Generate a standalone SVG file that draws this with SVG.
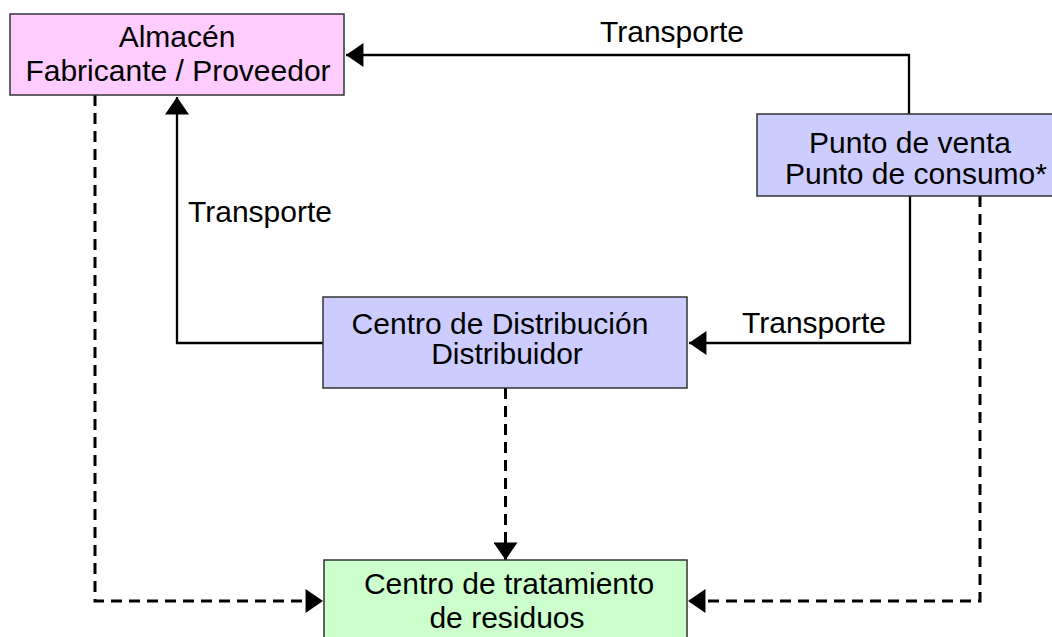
<svg xmlns="http://www.w3.org/2000/svg" width="1052" height="637" viewBox="0 0 1052 637">
<style>
  .box { stroke: #333333; stroke-width: 1.5; }
  .pink { fill: #FFCCFF; }
  .blue { fill: #CCCCFF; }
  .green { fill: #CCFFCC; }
  text { font-family: "Liberation Sans", Arial, sans-serif; font-size: 30px; fill: #000000; }
  .c { text-anchor: middle; }
  .solid { fill: none; stroke: #000000; stroke-width: 2.3; }
  .dash { fill: none; stroke: #000000; stroke-width: 3; stroke-dasharray: 11 7; }
</style>
<defs>
  <marker id="arrow" markerUnits="userSpaceOnUse" markerWidth="18" markerHeight="24" viewBox="0 0 16 22" refX="16" refY="11" orient="auto">
    <path d="M0,0 L16,11 L0,22 Z" fill="#000000"/>
  </marker>
</defs>
<rect width="1052" height="637" fill="#FFFFFF"/>
<g id="connectors">
  <path class="solid" d="M909,114 V55 H346" marker-end="url(#arrow)"/>
  <path class="solid" d="M323,343 H177 V97" marker-end="url(#arrow)"/>
  <path class="solid" d="M910,196 V343 H689" marker-end="url(#arrow)"/>
  <path class="dash" d="M95,95 V601 H323" marker-end="url(#arrow)"/>
  <path class="dash" d="M505.5,388 V560" marker-end="url(#arrow)"/>
  <path class="dash" d="M980,196 V601 H688" marker-end="url(#arrow)"/>
  <text x="672" y="42" class="c">Transporte</text>
  <text x="188" y="222">Transporte</text>
  <text x="742" y="333">Transporte</text>
</g>
<g id="almacen">
  <rect class="box pink" x="10" y="14" width="334" height="81"/>
  <text x="177" y="47" class="c">Almacén</text>
  <text x="178" y="81" class="c">Fabricante / Proveedor</text>
</g>
<g id="punto-venta">
  <rect class="box blue" x="757" y="114" width="296" height="82"/>
  <text x="910" y="153" class="c">Punto de venta</text>
  <text x="916" y="184" class="c">Punto de consumo*</text>
</g>
<g id="centro-distribucion">
  <rect class="box blue" x="323" y="297" width="364" height="91"/>
  <text x="500" y="334" class="c">Centro de Distribución</text>
  <text x="507" y="364" class="c">Distribuidor</text>
</g>
<g id="centro-tratamiento">
  <rect class="box green" x="324" y="560" width="363" height="90"/>
  <text x="509" y="594" class="c">Centro de tratamiento</text>
  <text x="507" y="628" class="c">de residuos</text>
</g>
</svg>
